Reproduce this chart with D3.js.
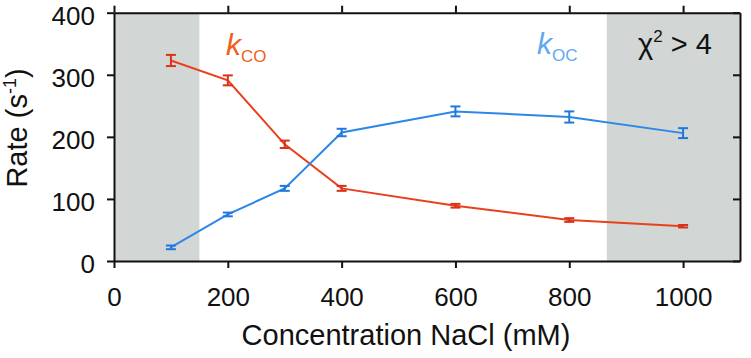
<!DOCTYPE html>
<html><head><meta charset="utf-8">
<script src="https://cdn.jsdelivr.net/npm/d3@7"></script>
<style>body{margin:0;background:#fff}svg{display:block}text{font-family:"Liberation Sans",Arial,Helvetica,sans-serif}</style>
</head><body>
<svg id="c" width="751" height="358"></svg>
<script>
const concentrations = [100, 200, 300, 400, 600, 800, 1000];
const kCO = [323, 291, 188, 117, 89, 66, 56];
const kCOerr = [9, 8, 6, 4, 3, 3, 2];
const kOC = [22, 75, 117, 207, 241, 232, 206];
const kOCerr = [3, 3, 4, 6, 8, 9, 8];
const xTicks = [0, 200, 400, 600, 800, 1000];
const yTicks = [0, 100, 200, 300, 400];
const shaded = [[0, 150], [866, 1100]];

const svg = d3.select("#c");
const x = d3.scaleLinear().domain([0, 1100]).range([114, 740]);
const y = d3.scaleLinear().domain([0, 400]).range([261, 12.7]);

// shaded regions
svg.selectAll("rect.sh").data(shaded).enter().append("rect")
  .attr("x", d => x(d[0])).attr("width", d => x(d[1]) - x(d[0]))
  .attr("y", y(400)).attr("height", y(0) - y(400))
  .attr("fill", "#d2d6d4");

function series(vals, errs, col, ecol) {
  const pts = concentrations.map((c, i) => ({c, v: vals[i], e: errs[i]}));
  svg.append("path").datum(pts)
    .attr("d", d3.line().x(d => x(d.c)).y(d => y(d.v)))
    .attr("fill", "none").attr("stroke", col).attr("stroke-width", 2);
  const g = svg.append("g").attr("stroke", ecol).attr("stroke-width", 2);
  pts.forEach(d => {
    const cx = x(d.c), y1 = y(d.v + d.e), y2 = y(d.v - d.e);
    g.append("line").attr("x1", cx).attr("x2", cx).attr("y1", y1).attr("y2", y2);
    g.append("line").attr("x1", cx - 5).attr("x2", cx + 5).attr("y1", y1).attr("y2", y1);
    g.append("line").attr("x1", cx - 5).attr("x2", cx + 5).attr("y1", y2).attr("y2", y2);
  });
}
series(kCO, kCOerr, "#e8401c", "#d9321a");
series(kOC, kOCerr, "#2b87e8", "#2277dd");

// axes
const tickFmt = d3.format("d");
const axB = svg.append("g").attr("transform", `translate(0,${y(0)})`)
  .call(d3.axisBottom(x).tickValues(xTicks).tickSize(7).tickSizeOuter(0).tickFormat(tickFmt));
const axT = svg.append("g").attr("transform", `translate(0,${y(400)})`)
  .call(d3.axisTop(x).tickValues(xTicks).tickSize(7).tickSizeOuter(0).tickFormat(""));
const axL = svg.append("g").attr("transform", `translate(${x(0)},0)`)
  .call(d3.axisLeft(y).tickValues(yTicks).tickSize(7).tickSizeOuter(0).tickFormat(tickFmt).tickPadding(12));
const axR = svg.append("g").attr("transform", `translate(${x(1100)},0)`)
  .call(d3.axisRight(y).tickValues(yTicks).tickSize(-7).tickSizeOuter(0).tickFormat(""));
[axB, axT, axL, axR].forEach(a => {
  a.selectAll("path.domain").attr("stroke", "#111").attr("stroke-width", 2);
  a.selectAll(".tick line").attr("stroke", "#111").attr("stroke-width", 2);
  a.selectAll(".tick text").attr("fill", "#111").style("font-size", "26px")
   .style("font-family", '"Liberation Sans",Arial,sans-serif');
});
axB.selectAll(".tick text").attr("dy", null).attr("y", 45);
axL.selectAll(".tick text").attr("dy", "0.45em");

// axis titles
const yt = svg.append("text").attr("transform", "translate(27,128) rotate(-90)")
  .attr("text-anchor", "middle").style("font-size", "29px").attr("fill", "#111");
yt.append("tspan").text("Rate (s");
yt.append("tspan").text("-1").style("font-size", "18px").attr("dy", -11);
yt.append("tspan").text(")").attr("dy", 11);

svg.append("text").attr("x", 406).attr("y", 345).attr("text-anchor", "middle")
  .style("font-size", "29px").attr("fill", "#111").text("Concentration NaCl (mM)");

// series labels
const l1 = svg.append("text").attr("x", 226).attr("y", 55).attr("fill", "#f0601c");
l1.append("tspan").text("k").style("font-size", "30px").style("font-style", "italic");
l1.append("tspan").text("CO").style("font-size", "17px").attr("dy", 7);

const l2 = svg.append("text").attr("x", 537).attr("y", 54).attr("fill", "#62a8f0");
l2.append("tspan").text("k").style("font-size", "30px").style("font-style", "italic");
l2.append("tspan").text("OC").style("font-size", "17px").attr("dy", 7);

const chi = svg.append("text").attr("x", 638).attr("y", 54).attr("fill", "#111").style("font-size", "29px");
chi.append("tspan").text("χ");
chi.append("tspan").text("2").style("font-size", "17px").attr("dy", -12);
chi.append("tspan").text(" > 4").attr("dy", 12);
</script>
</body></html>
